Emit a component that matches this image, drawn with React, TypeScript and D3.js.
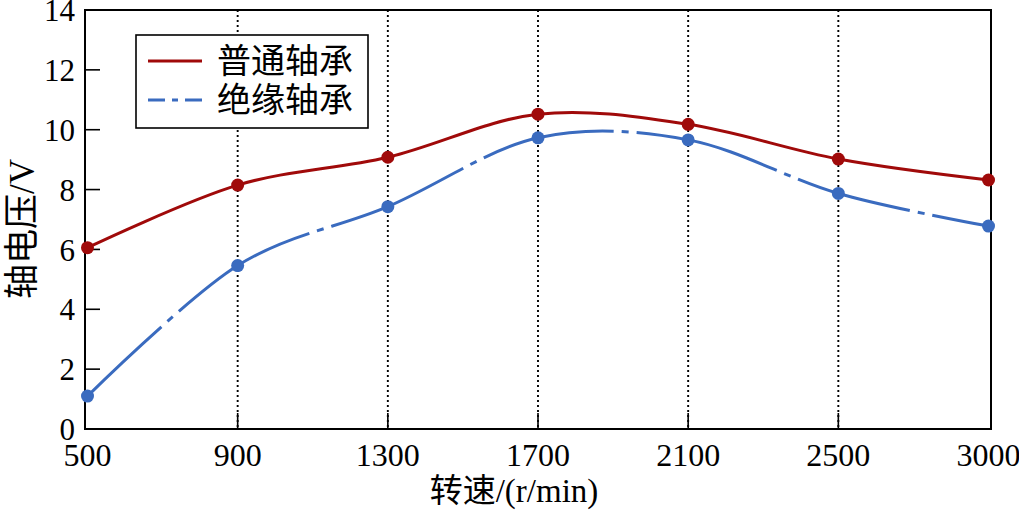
import React, { useEffect, useRef } from "react";
import * as d3 from "d3";

const speeds = ["500", "900", "1300", "1700", "2100", "2500", "3000"];
const normalBearing = [6.06, 8.15, 9.08, 10.52, 10.18, 9.02, 8.32];
const insulatedBearing = [1.1, 5.46, 7.43, 9.73, 9.66, 7.87, 6.78];
const yTicks = [0, 2, 4, 6, 8, 10, 12, 14];
const seriesNames = ["普通轴承", "绝缘轴承"];
const xTitle = "转速/(r/min)";
const yTitle = "轴电压/V";

const W = 1019;
const H = 514;
const LEFT = 85;
const RIGHT = 991;
const TOP = 10;
const BOTTOM = 429;
const RED = "#A00A0A";
const BLUE = "#3A6BBF";
const FONT = "'Liberation Serif', 'Times New Roman', 'Noto Sans CJK SC', serif";
const DOT_FRAC = [0.55, 0.55, 0.57, 0.58, 0.66, 0.55];

export default function App() {
  const blueRef = useRef<SVGPathElement>(null);
  const x = d3.scalePoint<string>().domain(speeds).range([87.5, 988.5]);
  const y = d3.scaleLinear().domain([0, 14]).range([BOTTOM, TOP]);
  const line = d3
    .line<number>()
    .x((_, i) => x(speeds[i])!)
    .y((d) => y(d))
    .curve(d3.curveCardinal.tension(0));

  useEffect(() => {
    const p = blueRef.current;
    if (!p) return;
    const total = p.getTotalLength();
    const lengthAtX = (tx: number) => {
      let lo = 0,
        hi = total;
      for (let k = 0; k < 40; k++) {
        const mid = (lo + hi) / 2;
        if (p.getPointAtLength(mid).x < tx) lo = mid;
        else hi = mid;
      }
      return (lo + hi) / 2;
    };
    const parts: number[] = [];
    let pos = 0;
    const gap = 8,
      dot = 7;
    for (let i = 0; i < speeds.length - 1; i++) {
      const x0 = x(speeds[i])!,
        x1 = x(speeds[i + 1])!;
      const c = lengthAtX(x0 + (x1 - x0) * DOT_FRAC[i]);
      const start = c - dot / 2 - gap;
      parts.push(Math.max(0, start - pos), gap, dot, gap);
      pos = c + dot / 2 + gap;
    }
    parts.push(Math.max(0, total - pos) + 20, 0);
    p.setAttribute("stroke-dasharray", parts.join(","));
  }, []);

  return (
    <svg width={W} height={H} style={{ display: "block", position: "absolute", left: 0, top: 0 }} fontFamily={FONT}>
      <rect x={0} y={0} width={W} height={H} fill="#fff" />
      {/* dotted grid */}
      {speeds.slice(1, -1).map((s) => (
        <line
          key={"g" + s}
          x1={x(s)}
          x2={x(s)}
          y1={TOP}
          y2={BOTTOM}
          stroke="#000"
          strokeWidth={1.9}
          strokeDasharray="2,3"
        />
      ))}
      {/* ticks */}
      {speeds.slice(1, -1).map((s) => (
        <line key={"xt" + s} x1={x(s)} x2={x(s)} y1={BOTTOM} y2={BOTTOM - 16} stroke="#000" strokeWidth={1.6} />
      ))}
      {yTicks.slice(1, -1).map((t) => (
        <line key={"yt" + t} x1={LEFT} x2={LEFT + 15} y1={y(t)} y2={y(t)} stroke="#000" strokeWidth={1.6} />
      ))}
      {/* frame */}
      <rect x={LEFT} y={TOP} width={RIGHT - LEFT} height={BOTTOM - TOP} fill="none" stroke="#000" strokeWidth={2} />
      {/* lines */}
      <path d={line(normalBearing)!} fill="none" stroke={RED} strokeWidth={3} />
      <path ref={blueRef} d={line(insulatedBearing)!} fill="none" stroke={BLUE} strokeWidth={3} />
      {normalBearing.map((v, i) => (
        <circle key={"r" + i} cx={x(speeds[i])} cy={y(v)} r={6.5} fill={RED} />
      ))}
      {insulatedBearing.map((v, i) => (
        <circle key={"b" + i} cx={x(speeds[i])} cy={y(v)} r={6.5} fill={BLUE} />
      ))}
      {/* y tick labels */}
      {yTicks.map((t) => (
        <text key={"yl" + t} x={75} y={y(t)} dy="0.36em" textAnchor="end" fontSize={31}>
          {t}
        </text>
      ))}
      {/* x tick labels */}
      {speeds.map((s) => (
        <text key={"xl" + s} x={x(s)} y={466} textAnchor="middle" fontSize={32}>
          {s}
        </text>
      ))}
      {/* axis titles */}
      <text x={514} y={502} textAnchor="middle" fontSize={33}>
        {xTitle}
      </text>
      <text transform="translate(34,229) rotate(-90)" textAnchor="middle" fontSize={35}>
        {yTitle}
      </text>
      {/* legend */}
      <rect x={136} y={35} width={232} height={93} fill="#fff" stroke="#000" strokeWidth={1.6} />
      <line x1={148} x2={202} y1={61} y2={61} stroke={RED} strokeWidth={3} />
      <line x1={148} x2={202} y1={100} y2={100} stroke={BLUE} strokeWidth={3} strokeDasharray="17,7,6,7,17" />
      <text x={217} y={61} dy="0.36em" fontSize={34}>
        {seriesNames[0]}
      </text>
      <text x={217} y={100} dy="0.36em" fontSize={34}>
        {seriesNames[1]}
      </text>
    </svg>
  );
}
